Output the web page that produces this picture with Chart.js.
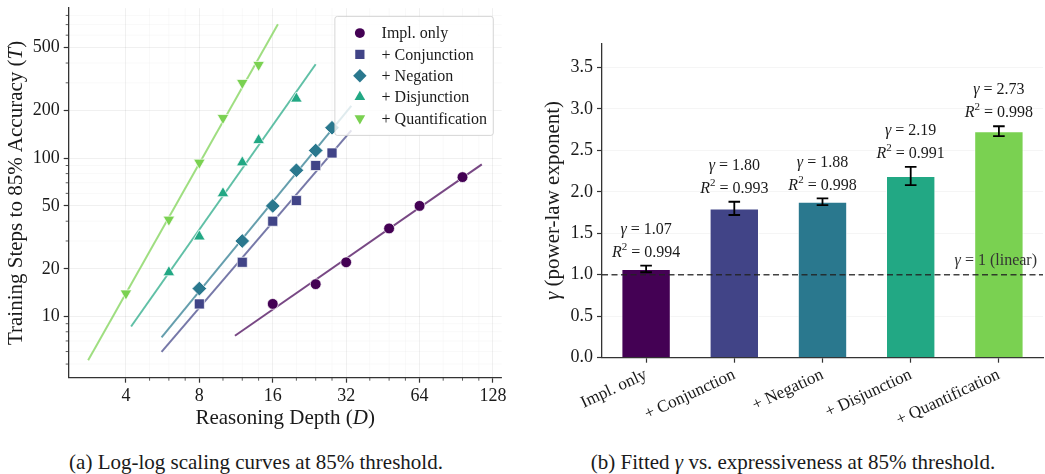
<!DOCTYPE html>
<html>
<head>
<meta charset="utf-8">
<script src="https://cdn.jsdelivr.net/npm/chart.js@4.4.1/dist/chart.umd.min.js"></script>
<style>
  body { margin: 0; background: #fff; width: 1045px; height: 474px; position: relative; overflow: hidden; font-family: "Liberation Serif", serif; }
  canvas { position: absolute; top: 0; }
  #scaling { left: 0; }
  #gamma { left: 520px; }
  .caption { position: absolute; top: 450px; font-size: 21px; line-height: 24px; color: #1a1a1a; white-space: nowrap; transform: translateX(-50%); }
</style>
</head>
<body>
<canvas id="scaling" width="520" height="440"></canvas>
<canvas id="gamma" width="525" height="440"></canvas>
<div class="caption" style="left:256px">(a) Log-log scaling curves at 85% threshold.</div>
<div class="caption" style="left:793px">(b) Fitted <i>γ</i> vs. expressiveness at 85% threshold.</div>
<script>
// --- data ---
const families = ['Impl. only', '+ Conjunction', '+ Negation', '+ Disjunction', '+ Quantification'];
const implDepth = [16, 24, 32, 48, 64, 96];
const implSteps = [12, 16, 22, 36, 50, 76];
const conjDepth = [8, 12, 16, 20, 24, 28];
const conjSteps = [12, 22, 40, 54, 90, 108];
const negDepth = [8, 12, 16, 20, 24, 28];
const negSteps = [15, 30, 50, 84, 112, 156];
const disjDepth = [6, 8, 10, 12, 14, 20];
const disjSteps = [19, 32, 60, 94, 130, 238];
const quantDepth = [4, 6, 8, 10, 12, 14];
const quantSteps = [14, 41, 94, 180, 300, 390];

const gammaFit = [1.07, 1.80, 1.88, 2.19, 2.73];
const gammaErr = [0.04, 0.08, 0.04, 0.11, 0.06];
const rSquared = [0.994, 0.993, 0.998, 0.991, 0.998];

const depthTicks = [4, 8, 16, 32, 64, 128];
const depthMinor = [5, 6, 7, 10, 12, 14, 20, 24, 28, 40, 48, 56, 80, 96, 112];
const stepTicks = [10, 20, 50, 100, 200, 500];
const stepMinor = [5, 6, 7, 8, 9, 30, 40, 60, 70, 80, 90, 300, 400, 600, 700, 800];

const colors = ['#440154', '#414487', '#2a788e', '#22a884', '#7ad151'];
const markers = [
  { pointStyle: 'circle', radius: 5.4, rotation: 0 },
  { pointStyle: 'rect', radius: 7.1, rotation: 0 },
  { pointStyle: 'rectRot', radius: 7.3, rotation: 0 },
  { pointStyle: 'triangle', radius: 6.7, rotation: 0 },
  { pointStyle: 'triangle', radius: 6.7, rotation: 180 }
];
const series = [
  [implDepth, implSteps], [conjDepth, conjSteps], [negDepth, negSteps],
  [disjDepth, disjSteps], [quantDepth, quantSteps]
];

const SERIF = '"Liberation Serif", "Times New Roman", serif';
const INK = '#1a1a1a';
Chart.defaults.font.family = SERIF;
Chart.defaults.color = INK;

// power-law line with the fitted exponent, intercept from least squares in log space
function fitLine(depth, steps, g) {
  let b = 0;
  depth.forEach((d, i) => { b += Math.log10(steps[i]) - g * Math.log10(d); });
  b /= depth.length;
  const x0 = Math.min(...depth) * 0.7, x1 = Math.max(...depth) * 1.2;
  return [x0, x1].map(x => ({ x: x, y: Math.pow(10, b + g * Math.log10(x)) }));
}

// text with italic / superscript pieces
function drawRich(ctx, parts, x, y, size, align) {
  const fontOf = s => (s === 'i' ? 'italic ' : '') + (s === 'sup' ? Math.round(size * 0.68) : size) + 'px ' + SERIF;
  let total = 0;
  const widths = parts.map(([t, s]) => { ctx.font = fontOf(s); const w = ctx.measureText(t).width; total += w; return w; });
  let cx = align === 'center' ? x - total / 2 : align === 'right' ? x - total : x;
  ctx.textAlign = 'left';
  ctx.textBaseline = 'middle';
  parts.forEach(([t, s], i) => {
    ctx.font = fontOf(s);
    ctx.fillText(t, cx, s === 'sup' ? y - size * 0.36 : y);
    cx += widths[i];
  });
}

function lockBox(w, h) {
  return function (scale) {
    if (w !== null) scale.width = w;
    if (h !== null) scale.height = h;
    scale.paddingTop = 0; scale.paddingBottom = 0;
    scale.paddingLeft = 0; scale.paddingRight = 0;
  };
}

// ---------- (a) log-log scaling ----------
const scatterSets = series.map(([d, t], i) => ({
  label: families[i],
  data: d.map((x, j) => ({ x: x, y: t[j] })),
  backgroundColor: colors[i],
  borderColor: 'rgba(255,255,255,0.9)',
  borderWidth: 0.8,
  pointStyle: markers[i].pointStyle,
  pointRadius: markers[i].radius,
  rotation: markers[i].rotation,
  showLine: false,
  order: 0
}));
const fitSets = series.map(([d, t], i) => ({
  label: families[i] + ' fit',
  data: fitLine(d, t, gammaFit[i]),
  borderColor: colors[i] + 'b8',
  borderWidth: 2,
  pointRadius: 0,
  showLine: true,
  order: 1
}));

const minorMarks = {
  id: 'minorMarks',
  beforeDatasetsDraw(chart) {
    const { ctx, chartArea: a, scales: { x, y } } = chart;
    ctx.save();
    ctx.strokeStyle = 'rgba(0,0,0,0.04)';
    ctx.lineWidth = 0.8;
    depthMinor.forEach(v => { const p = x.getPixelForValue(v); ctx.beginPath(); ctx.moveTo(p, a.top); ctx.lineTo(p, a.bottom); ctx.stroke(); });
    stepMinor.forEach(v => { const p = y.getPixelForValue(v); if (p < a.top || p > a.bottom) return; ctx.beginPath(); ctx.moveTo(a.left, p); ctx.lineTo(a.right, p); ctx.stroke(); });
    ctx.restore();
  },
  afterDraw(chart) {
    const { ctx, chartArea: a, scales: { x, y } } = chart;
    ctx.save();
    ctx.strokeStyle = '#333';
    ctx.lineWidth = 0.8;
    depthMinor.forEach(v => { const p = x.getPixelForValue(v); ctx.beginPath(); ctx.moveTo(p, a.bottom); ctx.lineTo(p, a.bottom + 3); ctx.stroke(); });
    stepMinor.forEach(v => { const p = y.getPixelForValue(v); if (p < a.top || p > a.bottom) return; ctx.beginPath(); ctx.moveTo(a.left, p); ctx.lineTo(a.left - 3, p); ctx.stroke(); });
    ctx.restore();
  }
};

const insideLegend = {
  id: 'insideLegend',
  afterDatasetsDraw(chart) {
    const { ctx, chartArea: a } = chart;
    ctx.save();
    ctx.font = '16px ' + SERIF;
    const maxW = Math.max(...families.map(f => ctx.measureText(f).width));
    const w = 47 + maxW + 6, h = 119;
    const left = a.right - 8.4 - w, top = a.top + 8.3;
    ctx.fillStyle = 'rgba(255,255,255,0.8)';
    ctx.strokeStyle = 'rgba(204,204,204,0.8)';
    ctx.lineWidth = 1;
    ctx.beginPath();
    ctx.roundRect(left, top, w, h, 2.5);
    ctx.fill();
    ctx.stroke();
    families.forEach((f, i) => {
      const yy = top + 16.7 + i * 21.3;
      ctx.fillStyle = colors[i];
      ctx.strokeStyle = 'rgba(255,255,255,0.9)';
      Chart.helpers.drawPoint(ctx, {
        pointStyle: markers[i].pointStyle, radius: markers[i].radius * 0.92,
        rotation: markers[i].rotation, borderWidth: 0
      }, left + 25, yy);
      ctx.fillStyle = INK;
      ctx.font = '16px ' + SERIF;
      ctx.textAlign = 'left';
      ctx.textBaseline = 'middle';
      ctx.fillText(f, left + 46.7, yy + 1);
    });
    ctx.restore();
  }
};

const scalingTitles = {
  id: 'scalingTitles',
  afterDraw(chart) {
    const { ctx, chartArea: a } = chart;
    ctx.save();
    ctx.fillStyle = INK;
    drawRich(ctx, [['Reasoning Depth (', ''], ['D', 'i'], [')', '']], (a.left + a.right) / 2, a.bottom + 40.5, 21, 'center');
    ctx.translate(a.left - 52.5, (a.top + a.bottom) / 2);
    ctx.rotate(-Math.PI / 2);
    drawRich(ctx, [['Training Steps to 85% Accuracy (', ''], ['T', 'i'], [')', '']], 0, 0, 21, 'center');
    ctx.restore();
  }
};

new Chart(document.getElementById('scaling'), {
  type: 'scatter',
  data: { datasets: scatterSets.concat(fitSets) },
  options: {
    responsive: false,
    animation: false,
    layout: { padding: { top: 5, right: 18.3, left: 0, bottom: 0 } },
    plugins: { legend: { display: false }, tooltip: { enabled: false } },
    scales: {
      x: {
        type: 'logarithmic',
        min: 2.33, max: 139,
        afterBuildTicks: s => { s.ticks = depthTicks.map(v => ({ value: v })); },
        afterFit: lockBox(null, 440 - 377.7),
        ticks: { callback: v => String(v), font: { size: 18 }, color: INK, maxRotation: 0, autoSkip: false, padding: 3 },
        grid: { color: 'rgba(0,0,0,0.08)', lineWidth: 0.8, tickColor: '#333', tickLength: 5, tickWidth: 1.2 },
        border: { color: '#333', width: 1.3 }
      },
      y: {
        type: 'logarithmic',
        min: 4.1, max: 890,
        afterBuildTicks: s => { s.ticks = stepTicks.map(v => ({ value: v })); },
        afterFit: lockBox(68.7, null),
        ticks: { callback: v => String(v), font: { size: 18 }, color: INK, autoSkip: false, padding: 4 },
        grid: { color: 'rgba(0,0,0,0.08)', lineWidth: 0.8, tickColor: '#333', tickLength: 5, tickWidth: 1.2 },
        border: { color: '#333', width: 1.3 }
      }
    }
  },
  plugins: [minorMarks, insideLegend, scalingTitles]
});

// ---------- (b) fitted gamma ----------
const gammaExtras = {
  id: 'gammaExtras',
  afterDatasetsDraw(chart) {
    const { ctx, chartArea: a, scales: { x, y } } = chart;
    ctx.save();
    // reference line at gamma = 1
    const y1 = y.getPixelForValue(1);
    ctx.strokeStyle = 'rgba(34,34,34,0.85)';
    ctx.lineWidth = 1.5;
    ctx.setLineDash([6, 3.5]);
    ctx.beginPath(); ctx.moveTo(a.left, y1); ctx.lineTo(a.right, y1); ctx.stroke();
    ctx.setLineDash([]);
    ctx.fillStyle = '#333';
    drawRich(ctx, [['γ', 'i'], [' = 1 (linear)', '']], a.right - 6, y1 - 14, 16, 'right');
    // error bars and fit annotations
    gammaFit.forEach((g, i) => {
      const px = x.getPixelForValue(i);
      const hi = y.getPixelForValue(g + gammaErr[i]);
      const lo = y.getPixelForValue(g - gammaErr[i]);
      ctx.strokeStyle = '#000';
      ctx.lineWidth = 1.8;
      ctx.beginPath();
      ctx.moveTo(px, hi); ctx.lineTo(px, lo);
      ctx.moveTo(px - 5.8, hi); ctx.lineTo(px + 5.8, hi);
      ctx.moveTo(px - 5.8, lo); ctx.lineTo(px + 5.8, lo);
      ctx.stroke();
      ctx.fillStyle = INK;
      drawRich(ctx, [['γ', 'i'], [' = ' + g.toFixed(2), '']], px, hi - 36, 16, 'center');
      drawRich(ctx, [['R', 'i'], ['2', 'sup'], [' = ' + rSquared[i].toFixed(3), '']], px, hi - 13, 16, 'center');
    });
    ctx.restore();
  },
  afterDraw(chart) {
    const { ctx, chartArea: a } = chart;
    ctx.save();
    ctx.fillStyle = INK;
    ctx.translate(a.left - 49, (a.top + a.bottom) / 2);
    ctx.rotate(-Math.PI / 2);
    drawRich(ctx, [['γ', 'i'], [' (power-law exponent)', '']], 0, 0, 21, 'center');
    ctx.restore();
  }
};

new Chart(document.getElementById('gamma'), {
  type: 'bar',
  data: {
    labels: families,
    datasets: [{
      label: 'gamma',
      data: gammaFit,
      backgroundColor: colors,
      borderColor: 'rgba(255,255,255,0.75)',
      borderWidth: 1,
      barPercentage: 0.56,
      categoryPercentage: 1.0
    }]
  },
  options: {
    responsive: false,
    animation: false,
    layout: { padding: { top: 43.3, right: 2, left: 0, bottom: 0 } },
    plugins: { legend: { display: false }, tooltip: { enabled: false } },
    scales: {
      x: {
        offset: true,
        afterFit: lockBox(null, 440 - 357.7),
        ticks: { font: { size: 17 }, color: INK, minRotation: 25, maxRotation: 25, autoSkip: false, padding: 2 },
        grid: { offset: false, drawOnChartArea: false, tickColor: '#333', tickLength: 5, tickWidth: 1.2 },
        border: { color: '#333', width: 1.3 }
      },
      y: {
        min: 0, max: 3.79,
        afterFit: lockBox(82, null),
        ticks: { stepSize: 0.5, includeBounds: false, callback: v => v.toFixed(1), font: { size: 18 }, color: INK, padding: 4 },
        grid: { color: 'rgba(0,0,0,0.05)', lineWidth: 0.8, tickColor: '#333', tickLength: 5, tickWidth: 1.2 },
        border: { color: '#333', width: 1.3 }
      }
    }
  },
  plugins: [gammaExtras]
});
</script>
</body>
</html>
